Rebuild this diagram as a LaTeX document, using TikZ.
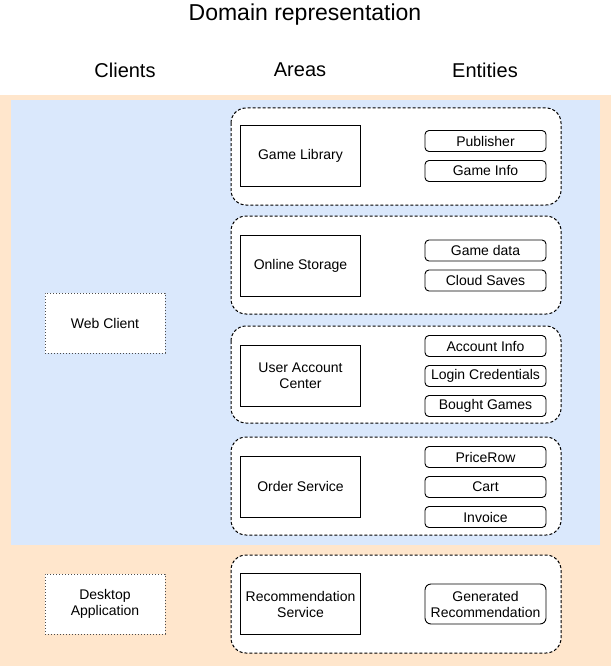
\documentclass[tikz,border=0pt]{standalone}
\usepackage{fontspec}
\setmainfont{Liberation Sans}
\begin{document}
\begin{tikzpicture}[x=1pt,y=-1pt,
  every node/.style={font=\fontsize{14}{16}\selectfont, align=center, text=black},
  group/.style={draw=black, line width=1pt, dash pattern=on 3pt off 2pt, rounded corners=15pt, fill=white},
  area/.style={draw=black, line width=0.9pt, fill=white, minimum width=120pt, minimum height=61pt, inner sep=0pt},
  entity/.style={draw=black, line width=0.9pt, fill=white, rounded corners=4pt, minimum width=121pt, minimum height=21pt, inner sep=0pt},
  client/.style={draw=black!70, line width=0.9pt, dash pattern=on 1pt off 2pt, fill=white, minimum width=120pt, minimum height=60pt, inner sep=0pt},
  header/.style={font=\fontsize{20}{22}\selectfont}
]
\useasboundingbox (0,0) rectangle (611,666);
\fill[white] (0,0) rectangle (611,666);
\fill[fill={rgb,255:red,255;green,230;blue,204}] (0,95) rectangle (611,666);
\fill[fill={rgb,255:red,218;green,232;blue,252}] (11,100) rectangle (600,545);

\node[font=\fontsize{23}{25}\selectfont] (title) at (305,15) {Domain representation};
\node[header] (hclients) at (125,70) {Clients};
\node[header] (hareas) at (300,70) {Areas};
\node[header] (hentities) at (485,70) {Entities};

% groups
\draw[group] (231,108) rectangle (561,205);
\draw[group] (231,216) rectangle (561,314);
\draw[group] (231,326) rectangle (561,423);
\draw[group] (231,437) rectangle (561,535);
\draw[group] (231,555) rectangle (561,653);

% areas
\node[area] (lib) at (300.5,156) {Game Library};
\node[area] (stor) at (300.5,265.5) {Online Storage};
\node[area] (acct) at (300.5,375.5) {User Account\\Center};
\node[area] (order) at (300.5,486.5) {Order Service};
\node[area] (rec) at (300.5,604) {Recommendation\\Service};

% entities
\node[entity] (pub) at (485.5,141) {Publisher};
\node[entity] (ginfo) at (485.5,171) {Game Info};
\node[entity] (gdata) at (485.5,250.5) {Game data};
\node[entity] (saves) at (485.5,280.5) {Cloud Saves};
\node[entity] (ainfo) at (485.5,346) {Account Info};
\node[entity] (login) at (485.5,376) {Login Credentials};
\node[entity] (bought) at (485.5,406) {Bought Games};
\node[entity] (price) at (485.5,457) {PriceRow};
\node[entity] (cart) at (485.5,487) {Cart};
\node[entity] (inv) at (485.5,517) {Invoice};
\node[entity, minimum height=40pt, rounded corners=6pt] (genrec) at (485.5,604) {Generated\\Recommendation};

% clients
\node[client] (web) at (105,323) {Web Client};
\node[client] (desk) at (105,604) {Desktop\\Application};
\end{tikzpicture}
\end{document}
